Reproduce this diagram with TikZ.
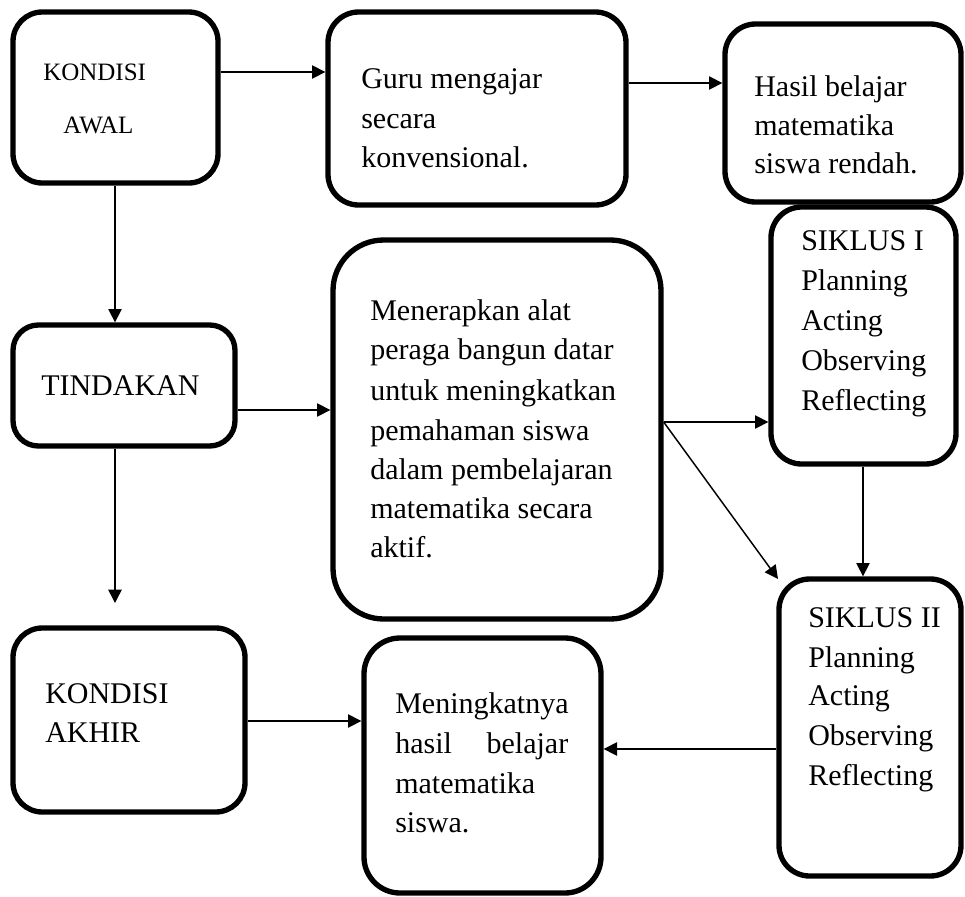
\documentclass[tikz,border=0pt]{standalone}
\usepackage{fontspec}
\setmainfont{Liberation Serif}
\usetikzlibrary{arrows.meta,fit}
\begin{document}
\begin{tikzpicture}[x=0.75pt,y=-0.75pt,
  box/.style={draw, line width=4pt, inner sep=0pt},
  txt/.style={anchor=base west, inner sep=0pt, font=\fontsize{22.5pt}{27pt}\selectfont},
  stxt/.style={anchor=base west, inner sep=0pt, font=\fontsize{18.75pt}{22pt}\selectfont},
  arr/.style={-{Triangle[length=10pt,width=10pt]}, line width=1.1pt}]
\useasboundingbox (0,0) rectangle (965,897);

% boxes
\node[box, fit={(13,12) (218,183)}, rounded corners=22pt] (awal) {};
\node[box, fit={(328,12) (626,205)}, rounded corners=23pt] (guru) {};
\node[box, fit={(725,24) (961,202)}, rounded corners=23pt] (hasil) {};
\node[box, fit={(771,207) (956,464)}, rounded corners=23pt] (s1) {};
\node[box, fit={(13,325) (235,446)}, rounded corners=19pt] (tind) {};
\node[box, fit={(333,240) (661,619)}, rounded corners=38pt] (mener) {};
\node[box, fit={(779,579) (961,876)}, rounded corners=23pt] (s2) {};
\node[box, fit={(13,628) (245,812)}, rounded corners=22pt] (akhir) {};
\node[box, fit={(364,638) (601,893)}, rounded corners=27pt] (mening) {};

% texts
\node[stxt] (awal1) at (43,80) {KONDISI};
\node[stxt] (awal2) at (63,133) {AWAL};

\node[txt] (guru1) at (361,88) {Guru mengajar};
\node[txt] (guru2) at (361,128) {secara};
\node[txt] (guru3) at (361,167) {konvensional.};

\node[txt] (hasil1) at (754,96) {Hasil belajar};
\node[txt] (hasil2) at (754,135) {matematika};
\node[txt] (hasil3) at (754,173) {siswa rendah.};

\node[txt] (s1a) at (801,250) {SIKLUS I};
\node[txt] (s1b) at (801,290) {Planning};
\node[txt] (s1c) at (801,330) {Acting};
\node[txt] (s1d) at (801,370) {Observing};
\node[txt] (s1e) at (801,410) {Reflecting};

\node[txt] (tind1) at (41,395) {TINDAKAN};

\node[txt] (m1) at (370,320) {Menerapkan alat};
\node[txt] (m2) at (370,359) {peraga bangun datar};
\node[txt] (m3) at (370,400) {untuk meningkatkan};
\node[txt] (m4) at (370,440) {pemahaman siswa};
\node[txt] (m5) at (370,479) {dalam pembelajaran};
\node[txt] (m6) at (370,518) {matematika secara};
\node[txt] (m7) at (370,557) {aktif.};

\node[txt] (s2a) at (808,627) {SIKLUS II};
\node[txt] (s2b) at (808,667) {Planning};
\node[txt] (s2c) at (808,705) {Acting};
\node[txt] (s2d) at (808,745) {Observing};
\node[txt] (s2e) at (808,785) {Reflecting};

\node[txt] (ak1) at (45,703) {KONDISI};
\node[txt] (ak2) at (45,742) {AKHIR};

\node[txt] (mg1) at (395,713) {Meningkatnya};
\node[txt] (mg2) at (395,753) {\makebox[129.75pt][s]{hasil belajar}};
\node[txt] (mg3) at (395,793) {matematika};
\node[txt] (mg4) at (395,832) {siswa.};

% free ends
\coordinate (d1) at (115,603);
\coordinate (d2) at (778,579);

% connectors
\draw[arr] (awal.east |- 0,72) -- (guru.west |- 0,72);
\draw[arr] (guru.east |- 0,83) -- (hasil.west |- 0,83);
\draw[arr] (awal.south -| 115,0) -- (tind.north -| 115,0);
\draw[arr] (tind.east |- 0,410) -- (mener.west |- 0,410);
\draw[arr] (tind.south -| 115,0) -- (d1);
\draw[arr] (mener.east |- 0,422) -- (s1.west |- 0,422);
\draw[arr] (mener.east |- 0,422) -- (d2);
\draw[arr] (s1.south -| 863,0) -- (s2.north -| 863,0);
\draw[arr] (s2.west |- 0,749) -- (mening.east |- 0,749);
\draw[arr] (akhir.east |- 0,721) -- (mening.west |- 0,721);
\end{tikzpicture}
\end{document}
